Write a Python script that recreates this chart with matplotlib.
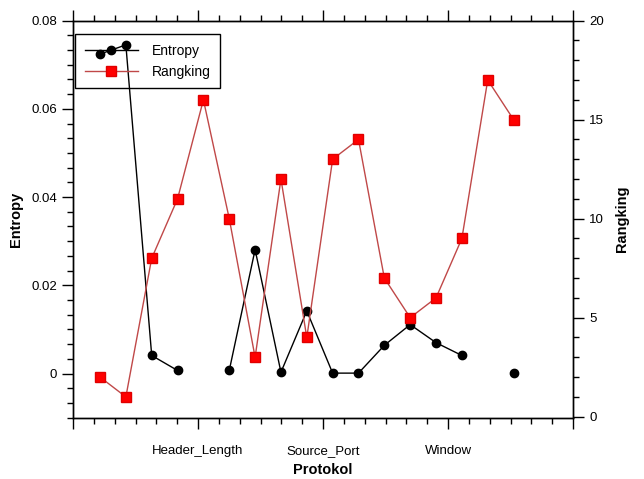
import numpy as np
import matplotlib
matplotlib.use('Agg')
import matplotlib.pyplot as plt
from matplotlib.ticker import FixedLocator, MultipleLocator

plt.rcParams['font.family'] = ['Liberation Sans', 'DejaVu Sans']

# data
idx = list(range(1, 18))
entropy = [0.0724, 0.0745, 0.0041, 0.0007, np.nan, 0.0007, 0.0281, 0.0003, 0.0142,
           0.0001, 0.0001, 0.0064, 0.0111, 0.0070, 0.0041, np.nan, 0.0002]
rangking = [2, 1, 8, 11, 16, 10, 3, 12, 4, 13, 14, 7, 5, 6, 9, 17, 15]
x_labels = ['', 'Header_Length', 'Source_Port', 'Window', '']

fig = plt.figure(figsize=(6.44, 4.79), dpi=100)
ax = fig.add_axes([0.1134, 0.128, 0.7764, 0.829])
ax2 = ax.twinx()

l1, = ax.plot(idx, entropy, color='black', lw=1, marker='o', markersize=6,
              label='Entropy')
l2, = ax2.plot(idx, rangking, color='#c04848', lw=1, marker='s', markersize=7,
               markerfacecolor='#ff0000', markeredgecolor='#e00000', label='Rangking')

# x axis: category-like axis, labels at evenly spaced major ticks
x0, x1 = -0.044, 19.30
ax.set_xlim(x0, x1)
ax.xaxis.set_major_locator(FixedLocator(np.linspace(x0, x1, 5)))
ax.xaxis.set_minor_locator(FixedLocator(np.linspace(x0, x1, 25)))
ax.set_xticklabels(x_labels)

ax.set_ylim(-0.01, 0.08)
ax.set_yticks([0, 0.02, 0.04, 0.06, 0.08])
ax.set_yticklabels(['0', '0.02', '0.04', '0.06', '0.08'])
ax.yaxis.set_minor_locator(MultipleLocator(0.02 / 6))

ax2.set_ylim(-0.05, 20)
ax2.set_yticks([0, 5, 10, 15, 20])
ax2.yaxis.set_minor_locator(MultipleLocator(1))

for a in (ax, ax2):
    a.tick_params(which='both', direction='out', labelsize=9.5, width=1)
    a.tick_params(which='major', length=8)
    a.tick_params(which='minor', length=4)
    for s in a.spines.values():
        s.set_linewidth(1)
ax.tick_params(which='both', top=True, right=False)
ax.tick_params(axis='x', pad=12)

ax.set_xlabel('Protokol', fontsize=10.5, fontweight='bold', labelpad=4)
ax.set_ylabel('Entropy', fontsize=10.5, fontweight='bold', labelpad=6)
ax2.set_ylabel('Rangking', fontsize=10.5, fontweight='bold', labelpad=8)

leg = ax2.legend([l1, l2], ['Entropy', 'Rangking'], loc='upper left',
                 bbox_to_anchor=(0.004, 0.966), borderaxespad=0, fontsize=10,
                 handlelength=3.8, handletextpad=1.0, labelspacing=0.5,
                 borderpad=0.7, fancybox=False, framealpha=1)
leg.get_frame().set_facecolor('none')
leg.get_frame().set_edgecolor('black')
leg.get_frame().set_linewidth(1)

fig.savefig('out.png', dpi=100)
